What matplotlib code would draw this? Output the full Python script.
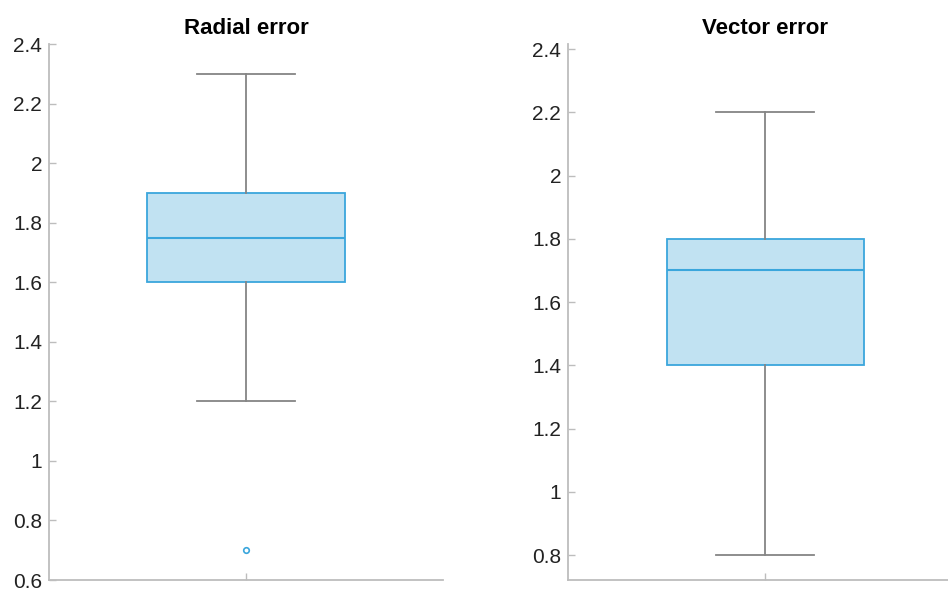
import matplotlib.pyplot as plt

# Box statistics
titles = ['Radial error', 'Vector error']
whislo = [1.2, 0.8]
q1 = [1.6, 1.4]
med = [1.75, 1.7]
q3 = [1.9, 1.8]
whishi = [2.3, 2.2]
fliers = [[0.7], []]
ylims = [(0.6, 2.4), (0.721, 2.416)]
yticks = [[0.6, 0.8, 1, 1.2, 1.4, 1.6, 1.8, 2, 2.2, 2.4],
          [0.8, 1, 1.2, 1.4, 1.6, 1.8, 2, 2.2, 2.4]]

plt.rcParams['font.family'] = ['Liberation Sans', 'DejaVu Sans']

W, H = 948, 589
fig = plt.figure(figsize=(W / 100, H / 100), dpi=100)

axes_px = [(49, 44, 394, 536), (568, 44, 394, 536)]

edge = '#3aa6dc'
face = '#c1e2f2'
grey = '#858585'
axis_grey = '#bdbdbd'

for i in range(2):
    x0, y0, w, h = axes_px[i]
    ax = fig.add_axes([x0 / W, (H - y0 - h) / H, w / W, h / H])
    stats = [dict(whislo=whislo[i], q1=q1[i], med=med[i], q3=q3[i],
                  whishi=whishi[i], fliers=fliers[i])]
    ax.bxp(stats, positions=[1], widths=0.5, patch_artist=True,
           boxprops=dict(facecolor=face, edgecolor=edge, linewidth=1.3),
           medianprops=dict(color=edge, linewidth=1.5),
           whiskerprops=dict(color=grey, linewidth=1.3),
           capprops=dict(color=grey, linewidth=1.3),
           capwidths=0.25,
           flierprops=dict(marker='o', markersize=4, markerfacecolor='none',
                           markeredgecolor=edge, markeredgewidth=1.2),
           zorder=3)
    ax.set_xlim(0.5, 1.5)
    ax.set_ylim(*ylims[i])
    ax.set_yticks(yticks[i])
    ax.set_yticklabels([f'{t:g}' for t in yticks[i]])
    ax.set_xticks([1])
    ax.set_xticklabels([''])
    for s in ['top', 'right']:
        ax.spines[s].set_visible(False)
    for s in ['left', 'bottom']:
        ax.spines[s].set_color(axis_grey)
        ax.spines[s].set_linewidth(1.3)
    ax.tick_params(direction='in', length=5, width=1, color=axis_grey,
                   labelsize=15, labelcolor='#222222', pad=5)
    ax.set_title(titles[i], fontsize=16, fontweight='bold', pad=7)

fig.savefig('out.png', dpi=100)
